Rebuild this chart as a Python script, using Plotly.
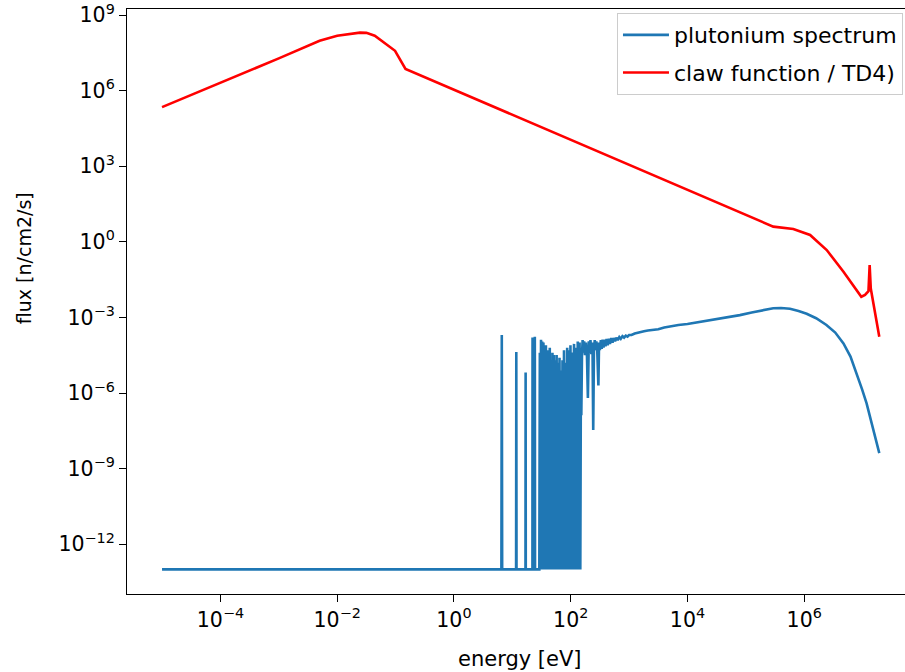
import plotly.graph_objects as go

# ---------------- data ----------------
# plutonium spectrum : energy [eV] and flux [n/cm2/s]
energy_pu = [
    1e-5, 6.5, 6.6, 6.7, 11.6, 11.7, 11.8, 16.8, 16.9, 17.0,
    22.1, 22.2, 22.4, 24.1, 24.3, 24.5,
    29.0, 29.6, 30.3, 31.0, 31.8, 32.5, 33.3, 34.1, 35.0, 35.8,
    36.7, 37.6, 38.6, 39.6, 40.6, 41.6, 42.7, 43.8, 45.0, 46.2,
    47.4, 48.7, 50.0, 51.4, 52.8, 54.3, 55.8, 57.4, 59.0, 60.7,
    62.5, 64.3, 66.2, 68.2, 70.2, 72.3, 74.5, 76.8, 79.2, 81.7,
    84.3, 87.0, 89.8, 92.7, 95.8, 99.0, 102, 106, 110, 114,
    118, 122, 127, 132, 137, 142, 146, 150,
    152, 156, 160, 165, 170, 176, 182, 190, 197, 204,
    211, 218, 226, 236, 243, 250, 258, 266, 275, 285,
    298, 306, 316, 328, 340, 352, 365, 380, 395, 412,
    430, 450, 470, 495, 520, 545, 575, 605, 640, 680,
    720, 770, 820, 880, 940, 1000, 1100, 1250, 1400, 1600,
    1800, 2100, 2500, 3160, 4000, 5500, 7000, 1e4, 2e4, 4e4,
    7.9e4, 1.26e5, 2e5, 2.95e5, 4e5, 5.7e5, 8e5, 1.1e6, 1.6e6, 2.4e6,
    3.4e6, 4.7e6, 6.2e6, 7.9e6, 9.8e6, 1.17e7, 1.35e7, 1.5e7, 1.7e7, 1.93e7,
]
flux_pu = [
    1e-13, 1e-13, 2.0e-4, 1e-13, 1e-13, 4.2e-5, 1e-13, 1e-13, 6.5e-6, 1e-13,
    1e-13, 1.6e-4, 1e-13, 1e-13, 1.7e-4, 1e-13,
    1e-13, 4.0e-5, 1e-13, 1.3e-4, 1e-13, 1.1e-4, 1e-13, 1.0e-4, 1e-13, 2.5e-5,
    1e-13, 7.9e-5, 1e-13, 5.0e-5, 1e-13, 2.5e-6, 1e-13, 6.3e-5, 1e-13, 2.0e-5,
    1e-13, 4.0e-5, 1e-13, 3.2e-5, 1e-13, 2.0e-5, 1e-13, 3.2e-5, 1e-13, 1.6e-5,
    1e-13, 2.5e-5, 1e-13, 7.9e-6, 1e-13, 2.0e-5, 1e-13, 5.0e-5, 1e-13, 1.6e-5,
    1e-13, 6.3e-5, 1e-13, 5.0e-5, 1e-13, 7.9e-5, 1e-13, 4.0e-5, 1e-13, 8.9e-5,
    1e-13, 6.3e-5, 1e-13, 1.1e-4, 1e-13, 1.0e-4, 1e-13, 6.3e-5,
    1.3e-7, 3.2e-5, 1.26e-4, 4.0e-5, 1.12e-4, 3.2e-5, 1.0e-4, 2.8e-5, 6.3e-7, 1.12e-4,
    4.0e-5, 1.26e-4, 3.5e-5, 1.0e-4, 3.4e-8, 4.5e-5, 1.26e-4, 5.0e-5, 1.12e-4, 4.5e-5,
    2.0e-6, 1.0e-4, 5.0e-5, 1.26e-4, 5.6e-5, 1.32e-4, 6.3e-5, 1.32e-4, 7.1e-5, 1.41e-4,
    7.9e-5, 1.41e-4, 8.9e-5, 1.51e-4, 1.0e-4, 1.51e-4, 1.12e-4, 1.58e-4, 1.26e-4, 1.66e-4,
    1.41e-4, 1.78e-4, 1.58e-4, 1.9e-4, 1.74e-4, 2.0e-4, 2.0e-4, 2.3e-4, 2.4e-4, 2.6e-4,
    2.8e-4, 3.0e-4, 3.2e-4, 3.4e-4, 4.0e-4, 4.6e-4, 5.0e-4, 5.5e-4, 7.2e-4, 9.3e-4,
    1.23e-3, 1.58e-3, 2.0e-3, 2.3e-3, 2.35e-3, 2.2e-3, 1.8e-3, 1.4e-3, 9.3e-4, 5.0e-4,
    2.5e-4, 9.3e-5, 2.8e-5, 6.0e-6, 1.4e-6, 3.9e-7, 1.0e-7, 3.4e-8, 1.1e-8, 4.1e-9,
]

# claw function / TD4)
energy_claw = [
    1e-5, 1e-4, 1e-3, 5.0e-3, 1e-2, 2.45e-2, 3.16e-2, 4.4e-2, 9.8e-2, 0.148,
    1.0, 10.0, 100.0, 1000.0, 1e4, 1e5, 2.95e5, 6.5e5, 1.26e6, 2.43e6,
    4.7e6, 9.5e6, 1.1e7, 1.26e7, 1.32e7, 1.38e7, 1.62e7, 1.93e7,
]
flux_claw = [
    2.2e5, 2.0e6, 1.9e7, 9.5e7, 1.5e8, 2.0e8, 1.95e8, 1.5e8, 3.8e7, 7.2e6,
    1.07e6, 1.1e5, 1.1e4, 1.1e3, 115.0, 11.7, 4.0, 3.2, 1.86, 0.47,
    0.065, 6.6e-3, 7.8e-3, 1.1e-2, 0.12, 1.4e-2, 1.7e-3, 1.7e-4,
]

x_tick_vals = [1e-4, 1e-2, 1e0, 1e2, 1e4, 1e6]
x_tick_text = ["10<sup>−4</sup>", "10<sup>−2</sup>", "10<sup>0</sup>",
               "10<sup>2</sup>", "10<sup>4</sup>", "10<sup>6</sup>"]
y_tick_vals = [1e-12, 1e-9, 1e-6, 1e-3, 1e0, 1e3, 1e6, 1e9]
y_tick_text = ["10<sup>−12</sup>", "10<sup>−9</sup>", "10<sup>−6</sup>",
               "10<sup>−3</sup>", "10<sup>0</sup>", "10<sup>3</sup>",
               "10<sup>6</sup>", "10<sup>9</sup>"]

# ---------------- figure ----------------
FONT = "DejaVu Sans"
fig = go.Figure()
fig.add_trace(go.Scatter(
    x=energy_pu, y=flux_pu, mode="lines", name="plutonium spectrum",
    line=dict(color="#1f77b4", width=2.6), legendgroup="a",
))
fig.add_trace(go.Scatter(
    x=energy_claw, y=flux_claw, mode="lines", name="claw function / TD4)",
    line=dict(color="#ff0000", width=2.6), legendgroup="b",
))

axis_common = dict(
    type="log", showgrid=False, zeroline=False, showline=True,
    linecolor="black", linewidth=1.2, ticks="outside", ticklen=7,
    tickwidth=1.2, tickcolor="black", ticklabeloverflow="allow",
    tickfont=dict(family=FONT, size=20.5, color="black"),
)
fig.update_layout(
    width=905, height=672,
    margin=dict(l=127, r=0, t=9, b=78),
    paper_bgcolor="white", plot_bgcolor="white",
    font=dict(family=FONT, size=19, color="black"),
    xaxis=dict(range=[-5.60, 7.726], tickvals=x_tick_vals, ticktext=x_tick_text,
               mirror=True, **axis_common),
    yaxis=dict(range=[-13.976, 9.238], tickvals=y_tick_vals, ticktext=y_tick_text,
               mirror=False, **axis_common),
    showlegend=True,
    legend=dict(
        x=0.9974, xanchor="right", y=0.993, yanchor="top",
        bgcolor="rgba(255,255,255,0.8)", bordercolor="#cccccc", borderwidth=1,
        font=dict(family=FONT, size=22, color="black"),
        traceorder="grouped", tracegroupgap=6, itemwidth=46,
    ),
    annotations=[
        dict(text="energy [eV]", xref="paper", yref="paper", x=0.505, y=-0.111,
             xanchor="center", yanchor="middle", showarrow=False,
             font=dict(family=FONT, size=21, color="black")),
        dict(text="flux [n/cm2/s]", xref="paper", yref="paper", x=-0.1324, y=0.574,
             xanchor="center", yanchor="middle", showarrow=False, textangle=-90,
             font=dict(family=FONT, size=19, color="black")),
    ],
)

# remove the browser's default 8px body margin so the figure fills the window
fig.write_html("out.html", config={"displayModeBar": False},
               post_script="document.body.style.margin='0px';")
